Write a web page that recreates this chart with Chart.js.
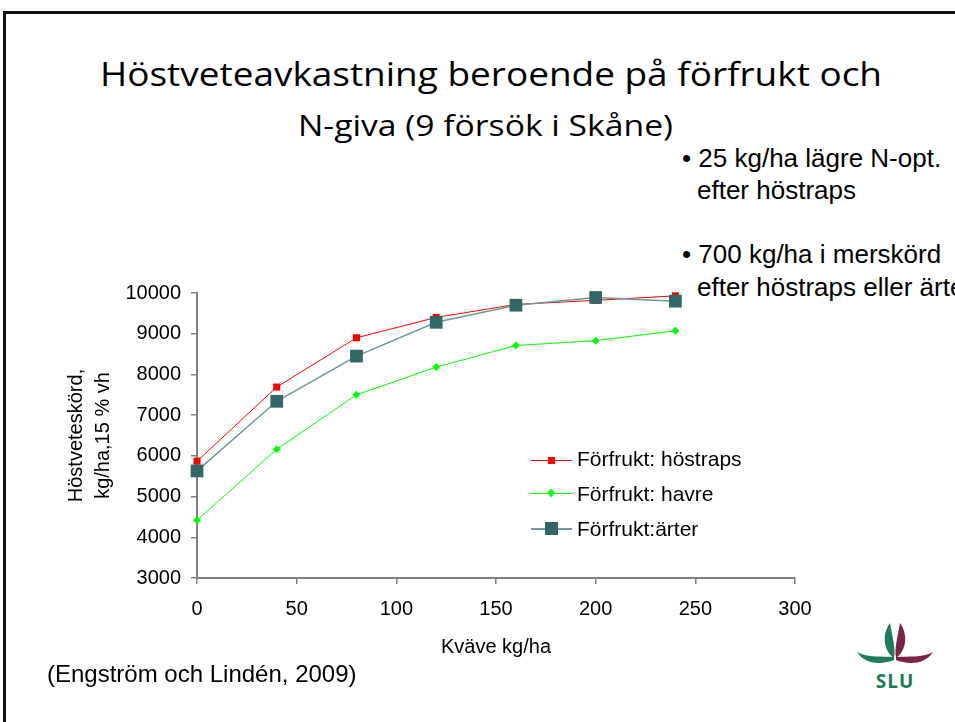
<!DOCTYPE html>
<html>
<head>
<meta charset="utf-8">
<script src="https://cdn.jsdelivr.net/npm/chart.js@4.4.1/dist/chart.umd.min.js"></script>
<style>
  html, body { margin: 0; padding: 0; background: #fff; }
  body { width: 955px; height: 722px; overflow: hidden; position: relative; font-family: "Liberation Sans", Arial, sans-serif; color: #000; }
  .frame { position: absolute; left: 3px; top: 11px; right: -10px; bottom: -10px; border-top: 3px solid #111; border-left: 3px solid #111; }
  .ttl { position: absolute; font-family: "Open Sans", "Noto Sans", sans-serif; line-height: 1; white-space: nowrap; transform-origin: 0 0; }
  .txt { position: absolute; line-height: 1; white-space: nowrap; }
  .leg { position: absolute; left: 531px; width: 41px; height: 20px; }
  .leg .ln { position: absolute; left: 0; right: 0; top: 9px; height: 2px; }
  .leg .mk { position: absolute; }
  #chartBox { position: absolute; left: 40px; top: 270px; width: 800px; height: 400px; }
</style>
</head>
<body>
<div class="frame"></div>

<div class="ttl" id="t1" style="left:100px; top:58px; font-size:32px;">Höstveteavkastning beroende på förfrukt och</div>
<div class="ttl" id="t2" style="left:298px; top:110px; font-size:30px;">N-giva (9 försök i Skåne)</div>

<div class="txt" style="left:682px; top:145px; font-size:26px;">•&nbsp;25 kg/ha lägre N-opt.</div>
<div class="txt" style="left:697px; top:177px; font-size:26px;">efter höstraps</div>
<div class="txt" style="left:682px; top:241px; font-size:26px;">•&nbsp;700 kg/ha i merskörd</div>
<div class="txt" style="left:697px; top:274px; font-size:26px;">efter höstraps eller ärter</div>

<div id="chartBox"><canvas id="yieldChart" width="800" height="400"></canvas></div>

<div class="leg" style="top:451px;"><div class="ln" style="background:#ff0000;height:1px;"></div><div class="mk" style="left:17px;top:6px;width:7px;height:7px;background:#ff0000;"></div></div>
<div class="leg" style="top:484px;"><div class="ln" style="background:#00ff00;height:1px;"></div><div class="mk" style="left:17px;top:6px;width:6px;height:6px;background:#00ff00;transform:rotate(45deg);"></div></div>
<div class="leg" style="top:519px;"><div class="ln" style="background:#6f9999;"></div><div class="mk" style="left:14px;top:3px;width:13px;height:13px;background:#336666;"></div></div>
<div class="txt" style="left:577px; top:448px; font-size:21px;">Förfrukt: höstraps</div>
<div class="txt" style="left:577px; top:483px; font-size:21px;">Förfrukt: havre</div>
<div class="txt" style="left:577px; top:518px; font-size:21px;">Förfrukt:ärter</div>

<div class="txt" style="left:47px; top:662px; font-size:24px;">(Engström och Lindén, 2009)</div>

<svg style="position:absolute; left:855px; top:620px;" width="80" height="72" viewBox="0 0 80 72">
  <path d="M39,38 C28,30 27,14 35,3 C37,16 41,28 39,38 Z" fill="#1d7a5a"/>
  <path d="M41,38 C52,30 53,14 45,3 C43,16 39,28 41,38 Z" fill="#7b2346"/>
  <path d="M39,40 C29,44 11,46 2,32 C13,38 27,36 39,37 Z" fill="#1d7a5a"/>
  <path d="M41,40 C51,44 69,46 78,32 C67,38 53,36 41,37 Z" fill="#7b2346"/>
  <text x="40" y="68" text-anchor="middle" font-family="Open Sans, sans-serif" font-weight="bold" font-size="19" letter-spacing="1" fill="#1d7a5a">SLU</text>
</svg>

<script>
  // kväve-givor (kg N/ha)
  const nLevels = [0, 40, 80, 120, 160, 200, 240];

  // skörd kg/ha per förfrukt
  const hostraps = [5870, 7690, 8900, 9400, 9720, 9820, 9930];
  const havre    = [4420, 6160, 7500, 8180, 8710, 8830, 9070];
  const arter    = [5630, 7340, 8450, 9280, 9700, 9890, 9800];

  const seriesLabels = ["Förfrukt: höstraps", "Förfrukt: havre", "Förfrukt:ärter"];

  const yTicks = [3000, 4000, 5000, 6000, 7000, 8000, 9000, 10000];
  const xTicks = [0, 50, 100, 150, 200, 250, 300];

  function toPoints(vals) {
    return nLevels.map((n, i) => ({ x: n, y: vals[i] }));
  }

  // rubriken: trycks ihop så bredden stämmer
  function fitWidth(id, target) {
    const el = document.getElementById(id);
    const w = el.getBoundingClientRect().width;
    el.style.transform = "scaleX(" + (target / w) + ")";
  }
  fitWidth("t1", 782);
  fitWidth("t2", 375);

  const axisColor = "#808080";
  const font = { family: "'Liberation Sans', Arial, sans-serif", size: 20 };

  const ctx = document.getElementById("yieldChart").getContext("2d");
  new Chart(ctx, {
    type: "line",
    data: {
      datasets: [
        {
          label: seriesLabels[2],
          data: toPoints(arter),
          borderColor: "#6f9999",
          borderWidth: 1.5,
          pointStyle: "rect",
          pointRadius: 9,
          pointBackgroundColor: "#336666",
          pointBorderColor: "#336666",
          pointBorderWidth: 0,
          clip: false,
          order: 0
        },
        {
          label: seriesLabels[0],
          data: toPoints(hostraps),
          borderColor: "#ff0000",
          borderWidth: 1,
          pointStyle: "rect",
          pointRadius: 5,
          pointBackgroundColor: "#ff0000",
          pointBorderColor: "#ff0000",
          pointBorderWidth: 0,
          clip: false,
          order: 1
        },
        {
          label: seriesLabels[1],
          data: toPoints(havre),
          borderColor: "#00ff00",
          borderWidth: 1,
          pointStyle: "rectRot",
          pointRadius: 4,
          pointBackgroundColor: "#00ff00",
          pointBorderColor: "#00ff00",
          pointBorderWidth: 0,
          clip: false,
          order: 2
        }
      ]
    },
    options: {
      responsive: false,
      animation: false,
      events: [],
      layout: { padding: { top: 23, right: 45, left: 0, bottom: 0 } },
      plugins: {
        legend: { display: false },
        tooltip: { enabled: false }
      },
      scales: {
        x: {
          type: "linear",
          min: 0,
          max: 300,
          afterFit: (s) => { s.height = 92; },
          afterBuildTicks: (s) => { s.ticks = xTicks.map(v => ({ value: v })); },
          border: { color: axisColor, width: 2 },
          grid: { drawOnChartArea: false, tickLength: 6, color: axisColor, lineWidth: 1.5 },
          ticks: { color: "#000", font: font, padding: 13, maxRotation: 0, callback: (v) => String(v) },
          title: {
            display: true,
            text: "Kväve kg/ha",
            color: "#000",
            font: { family: font.family, size: 20, lineHeight: 1.2 },
            padding: { top: 0, bottom: 11 }
          }
        },
        y: {
          min: 3000,
          max: 10000,
          afterFit: (s) => { s.width = 157; },
          afterBuildTicks: (s) => { s.ticks = yTicks.map(v => ({ value: v })); },
          border: { color: axisColor, width: 2 },
          grid: { drawOnChartArea: false, tickLength: 6, color: axisColor, lineWidth: 1.5 },
          ticks: { color: "#000", font: font, padding: 10, callback: (v) => String(v) },
          title: {
            display: true,
            text: ["Höstveteskörd,", "kg/ha,15 % vh"],
            color: "#000",
            font: { family: font.family, size: 20, lineHeight: 1.35 },
            padding: { top: 22.5, bottom: 0 }
          }
        }
      }
    }
  });
</script>
</body>
</html>
